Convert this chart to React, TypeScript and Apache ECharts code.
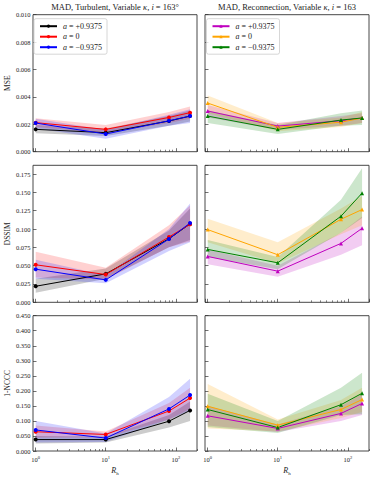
import React, { useEffect, useRef } from "react";
import * as echarts from "echarts";

// ---------- data ----------
const rh = [1, 10, 80, 160];
const minorTickValues = [2, 3, 4, 5, 6, 7, 8, 9, 20, 30, 40, 50, 60, 70, 80, 90, 200];

const labelPos = "a = +0.9375";
const labelZero = "a = 0";
const labelNeg = "a = \u22120.9375";

// MSE, turbulent (left)
const mseTurbPos = [0.00163, 0.00139, 0.00224, 0.0026];
const mseTurbZero = [0.00212, 0.00163, 0.0025, 0.00285];
const mseTurbNeg = [0.00209, 0.00129, 0.00226, 0.0026];
const mseTurbPosLo = [0.00135, 0.00115, 0.0019, 0.0022];
const mseTurbPosHi = [0.00195, 0.0017, 0.0026, 0.003];
const mseTurbZeroLo = [0.0018, 0.00135, 0.0021, 0.0024];
const mseTurbZeroHi = [0.00245, 0.00195, 0.0029, 0.0033];
const mseTurbNegLo = [0.0017, 0.00095, 0.0019, 0.0021];
const mseTurbNegHi = [0.0024, 0.0016, 0.0027, 0.0031];

// MSE, reconnection (right)
const mseRecPos = [0.00297, 0.00187, 0.00226, 0.00246];
const mseRecZero = [0.00355, 0.00178, 0.00215, 0.00246];
const mseRecNeg = [0.0026, 0.00163, 0.00231, 0.00246];
const mseRecPosLo = [0.0025, 0.0016, 0.0019, 0.0021];
const mseRecPosHi = [0.0034, 0.0021, 0.0026, 0.0028];
const mseRecZeroLo = [0.0028, 0.0015, 0.0018, 0.0021];
const mseRecZeroHi = [0.0041, 0.0021, 0.0025, 0.0029];
const mseRecNegLo = [0.0021, 0.0013, 0.0019, 0.00195];
const mseRecNegHi = [0.003, 0.00195, 0.0028, 0.003];

// DSSIM, turbulent
const dssimTurbPos = [0.0219, 0.0388, 0.0868, 0.107];
const dssimTurbZero = [0.0512, 0.0379, 0.0891, 0.1065];
const dssimTurbNeg = [0.0452, 0.0306, 0.0864, 0.1083];
const dssimTurbPosLo = [0.013, 0.032, 0.075, 0.085];
const dssimTurbPosHi = [0.032, 0.046, 0.098, 0.128];
const dssimTurbZeroLo = [0.034, 0.031, 0.075, 0.083];
const dssimTurbZeroHi = [0.069, 0.047, 0.105, 0.132];
const dssimTurbNegLo = [0.032, 0.026, 0.07, 0.082];
const dssimTurbNegHi = [0.058, 0.037, 0.1, 0.135];

// DSSIM, reconnection
const dssimRecPos = [0.0626, 0.0425, 0.0804, 0.101];
const dssimRecZero = [0.0992, 0.0649, 0.1133, 0.1266];
const dssimRecNeg = [0.0722, 0.0539, 0.1175, 0.149];
const dssimRecPosLo = [0.052, 0.035, 0.065, 0.078];
const dssimRecPosHi = [0.072, 0.05, 0.095, 0.117];
const dssimRecZeroLo = [0.082, 0.053, 0.093, 0.105];
const dssimRecZeroHi = [0.114, 0.082, 0.128, 0.145];
const dssimRecNegLo = [0.062, 0.045, 0.095, 0.115];
const dssimRecNegHi = [0.085, 0.062, 0.14, 0.183];

// 1-NCCC, turbulent
const ncccTurbPos = [0.038, 0.038, 0.099, 0.135];
const ncccTurbZero = [0.064, 0.055, 0.133, 0.176];
const ncccTurbNeg = [0.07, 0.043, 0.14, 0.186];
const ncccTurbPosLo = [0.025, 0.028, 0.078, 0.1];
const ncccTurbPosHi = [0.05, 0.048, 0.12, 0.165];
const ncccTurbZeroLo = [0.045, 0.045, 0.105, 0.14];
const ncccTurbZeroHi = [0.085, 0.065, 0.16, 0.21];
const ncccTurbNegLo = [0.028, 0.03, 0.105, 0.135];
const ncccTurbNegHi = [0.1, 0.058, 0.18, 0.24];

// 1-NCCC, reconnection
const ncccRecPos = [0.117, 0.075, 0.125, 0.158];
const ncccRecZero = [0.149, 0.086, 0.138, 0.171];
const ncccRecNeg = [0.138, 0.078, 0.154, 0.192];
const ncccRecPosLo = [0.085, 0.063, 0.1, 0.12];
const ncccRecPosHi = [0.15, 0.088, 0.15, 0.19];
const ncccRecZeroLo = [0.075, 0.065, 0.11, 0.13];
const ncccRecZeroHi = [0.223, 0.105, 0.17, 0.21];
const ncccRecNegLo = [0.08, 0.06, 0.12, 0.122];
const ncccRecNegHi = [0.19, 0.1, 0.21, 0.26];

const rowNames = ["MSE", "DSSIM", "1-NCCC"];
const rowMax = [0.01, 0.187, 0.45];
const rowInterval = [0.002, 0.025, 0.05];

const titleLeft = "MAD, Turbulent, Variable {i|\u03ba}, {i|i} = 163\u00b0";
const titleRight = "MAD, Reconnection, Variable {i|\u03ba}, {i|i} = 163";

// ---------- styling ----------
const FONT = "Liberation Serif";
const colorsLeft = ["#000000", "#ff0000", "#0000ff"];
const bandLeft = ["rgba(0,0,0,0.2)", "rgba(255,0,0,0.18)", "rgba(0,0,255,0.18)"];
const colorsRight = ["#bf00bf", "#ffa500", "#008000"];
const bandRight = ["rgba(191,0,191,0.2)", "rgba(255,165,0,0.2)", "rgba(0,128,0,0.2)"];

const X_MIN = 0.915;
const X_MAX = 201;
const gridLeft = [33, 205];
const gridTop = [14.7, 165.3, 315.7];
const GRID_W = 164;
const GRID_H = 137;

type Panel = {
  vals: number[][];
  lo: number[][];
  hi: number[][];
};

const panels: Panel[] = [
  { vals: [mseTurbPos, mseTurbZero, mseTurbNeg], lo: [mseTurbPosLo, mseTurbZeroLo, mseTurbNegLo], hi: [mseTurbPosHi, mseTurbZeroHi, mseTurbNegHi] },
  { vals: [mseRecPos, mseRecZero, mseRecNeg], lo: [mseRecPosLo, mseRecZeroLo, mseRecNegLo], hi: [mseRecPosHi, mseRecZeroHi, mseRecNegHi] },
  { vals: [dssimTurbPos, dssimTurbZero, dssimTurbNeg], lo: [dssimTurbPosLo, dssimTurbZeroLo, dssimTurbNegLo], hi: [dssimTurbPosHi, dssimTurbZeroHi, dssimTurbNegHi] },
  { vals: [dssimRecPos, dssimRecZero, dssimRecNeg], lo: [dssimRecPosLo, dssimRecZeroLo, dssimRecNegLo], hi: [dssimRecPosHi, dssimRecZeroHi, dssimRecNegHi] },
  { vals: [ncccTurbPos, ncccTurbZero, ncccTurbNeg], lo: [ncccTurbPosLo, ncccTurbZeroLo, ncccTurbNegLo], hi: [ncccTurbPosHi, ncccTurbZeroHi, ncccTurbNegHi] },
  { vals: [ncccRecPos, ncccRecZero, ncccRecNeg], lo: [ncccRecPosLo, ncccRecZeroLo, ncccRecNegLo], hi: [ncccRecPosHi, ncccRecZeroHi, ncccRecNegHi] },
];

const labels = [labelPos, labelZero, labelNeg];

function buildOption() {
  const grid: any[] = [];
  const xAxis: any[] = [];
  const yAxis: any[] = [];
  const series: any[] = [];

  for (let g = 0; g < 6; g++) {
    const row = Math.floor(g / 2);
    const col = g % 2;
    const bottom = row === 2;
    grid.push({
      left: gridLeft[col],
      top: gridTop[row],
      width: GRID_W,
      height: GRID_H,
      show: true,
      borderColor: "#333",
      borderWidth: 0.9,
      backgroundColor: "transparent",
      containLabel: false,
    });
    xAxis.push({
      type: "log",
      logBase: 10,
      gridIndex: g,
      min: X_MIN,
      max: X_MAX,
      position: "bottom",
      axisLine: { show: false },
      splitLine: { show: false },
      axisTick: { show: true, inside: true, length: 3.5, lineStyle: { color: "#333", width: 0.7 } },
      axisLabel: {
        show: bottom,
        showMinLabel: false,
        showMaxLabel: false,
        margin: 4,
        fontFamily: FONT,
        fontSize: 6.5,
        color: "#222",
        formatter: (v: number) => "10{sup|" + Math.round(Math.log10(v)) + "}",
        rich: {
          sup: { fontFamily: FONT, fontSize: 4.5, verticalAlign: "top", lineHeight: 8, color: "#222" },
        },
      },
      name: bottom ? "{i|R}{sub|h}" : "",
      nameLocation: "middle",
      nameGap: 15,
      nameTextStyle: {
        fontFamily: FONT,
        fontSize: 7,
        color: "#222",
        rich: {
          i: { fontFamily: FONT, fontStyle: "italic", fontSize: 8, color: "#222", verticalAlign: "top", lineHeight: 10 },
          sub: { fontFamily: FONT, fontSize: 5, color: "#222", verticalAlign: "bottom", lineHeight: 10 },
        },
      },
    });
    xAxis.push({
      type: "log",
      logBase: 10,
      gridIndex: g,
      min: X_MIN,
      max: X_MAX,
      position: "bottom",
      axisLine: { show: false },
      splitLine: { show: false },
      axisLabel: { show: false },
      axisTick: {
        show: true,
        inside: true,
        length: 2,
        customValues: minorTickValues,
        lineStyle: { color: "#333", width: 0.6 },
      },
    });
    yAxis.push({
      type: "value",
      gridIndex: g,
      min: 0,
      max: rowMax[row],
      interval: rowInterval[row],
      axisLine: { show: false },
      splitLine: { show: false },
      axisTick: { show: true, inside: true, length: 3.5, lineStyle: { color: "#333", width: 0.7 } },
      axisLabel: {
        show: col === 0,
        showMaxLabel: row !== 1,
        margin: 2.5,
        fontFamily: FONT,
        fontSize: 6.5,
        color: "#222",
        formatter: (v: number) => v.toFixed(3),
      },
      name: col === 0 ? rowNames[row] : "",
      nameLocation: "middle",
      nameGap: 21,
      nameTextStyle: { fontFamily: FONT, fontSize: 7.5, color: "#222" },
    });

    const p = panels[g];
    const cols = col === 0 ? colorsLeft : colorsRight;
    const bands = col === 0 ? bandLeft : bandRight;
    const suffix = col === 0 ? "" : "\u200b";
    for (let k = 0; k < 3; k++) {
      const lo = p.lo[k];
      const hi = p.hi[k];
      series.push({
        type: "custom",
        xAxisIndex: 2 * g,
        yAxisIndex: g,
        silent: true,
        z: 1,
        data: [[rh[0], lo[0]]],
        renderItem: (_params: any, api: any) => {
          const top = rh.map((x, i) => api.coord([x, hi[i]]));
          const bot = rh.map((x, i) => api.coord([x, lo[i]])).reverse();
          return {
            type: "polygon",
            shape: { points: top.concat(bot) },
            style: { fill: bands[k] },
          };
        },
      });
    }
    for (let k = 0; k < 3; k++) {
      series.push({
        type: "line",
        name: labels[k] + suffix,
        xAxisIndex: 2 * g,
        yAxisIndex: g,
        z: 3,
        data: rh.map((x, i) => [x, p.vals[k][i]]),
        symbol: col === 0 ? "circle" : "triangle",
        symbolSize: 4,
        showSymbol: true,
        lineStyle: { color: cols[k], width: 1 },
        itemStyle: { color: cols[k] },
      });
    }
  }

  const legendBase = (left: number, names: string[]) => ({
    left,
    top: 18.7,
    orient: "vertical",
    data: names,
    itemWidth: 17,
    itemHeight: 4,
    itemGap: 2.5,
    padding: [3.5, 5, 3, 5],
    borderColor: "#cccccc",
    borderWidth: 0.8,
    borderRadius: 2,
    backgroundColor: "rgba(255,255,255,0.8)",
    selectedMode: false,
    formatter: (name: string) => {
      const n = name.replace("\u200b", "");
      return "{i|a}" + n.slice(1);
    },
    textStyle: {
      fontFamily: FONT,
      fontSize: 8,
      lineHeight: 8,
      color: "#222",
      padding: [0, 0, 0, 1],
      rich: { i: { fontFamily: FONT, fontStyle: "italic", fontSize: 8, lineHeight: 8, color: "#222" } },
    },
  });

  const titleStyle = {
    fontFamily: FONT,
    fontSize: 8.5,
    fontWeight: "normal",
    color: "#222",
    rich: { i: { fontFamily: FONT, fontStyle: "italic", fontSize: 8.5, color: "#222" } },
  };

  return {
    animation: false,
    backgroundColor: "#ffffff",
    title: [
      { text: titleLeft, left: gridLeft[0] + GRID_W / 2, textAlign: "center", top: 2, padding: 0, textStyle: titleStyle },
      { text: titleRight, left: gridLeft[1] + GRID_W / 2, textAlign: "center", top: 2, padding: 0, textStyle: titleStyle },
    ],
    legend: [
      legendBase(34, labels),
      legendBase(206.5, labels.map((l) => l + "\u200b")),
    ],
    grid,
    xAxis,
    yAxis,
    series,
  };
}

export default function App() {
  const ref = useRef<HTMLDivElement>(null);
  useEffect(() => {
    if (!ref.current) return;
    const chart = echarts.init(ref.current, undefined, { renderer: "svg" });
    chart.setOption(buildOption() as any);
    return () => chart.dispose();
  }, []);
  return (
    <div
      ref={ref}
      style={{ position: "absolute", left: 0, top: 0, width: 374, height: 477, background: "#fff" }}
    />
  );
}
